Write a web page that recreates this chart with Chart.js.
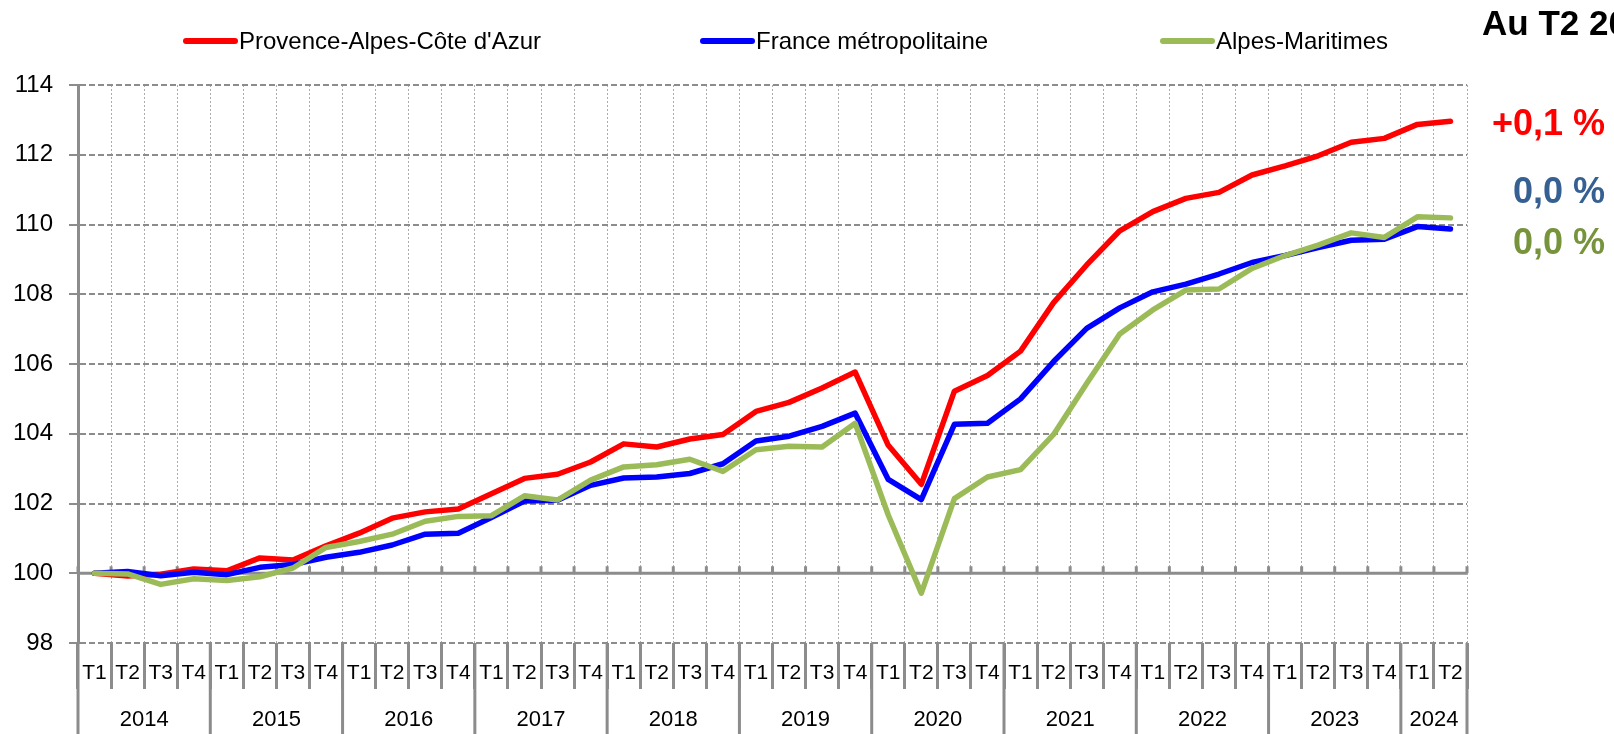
<!DOCTYPE html>
<html lang="fr">
<head>
<meta charset="utf-8">
<title>Indice PACA / France / Alpes-Maritimes</title>
<script src="https://cdn.jsdelivr.net/npm/chart.js@4.4.1/dist/chart.umd.min.js"></script>
<style>
  html, body { margin: 0; padding: 0; background: #fff; }
  #wrap { width: 1614px; height: 734px; position: relative; }
</style>
</head>
<body>
<div id="wrap"><canvas id="chart"></canvas></div>
<script>
// quarters, 2014 T1 -> 2024 T2
const quarterLabels = ['T1','T2','T3','T4','T1','T2','T3','T4','T1','T2','T3','T4',
	'T1','T2','T3','T4','T1','T2','T3','T4','T1','T2','T3','T4','T1','T2','T3','T4',
	'T1','T2','T3','T4','T1','T2','T3','T4','T1','T2','T3','T4','T1','T2'];
const yearLabels = ['2014','2015','2016','2017','2018','2019','2020','2021','2022','2023','2024'];
const quartersInYear = [4,4,4,4,4,4,4,4,4,4,2];

const seriesNames = ["Provence-Alpes-Côte d'Azur", 'France métropolitaine', 'Alpes-Maritimes'];

const pacaValues = [100.00, 99.92, 99.97, 100.12, 100.07, 100.44, 100.38, 100.79,
	101.15, 101.58, 101.76, 101.84, 102.28, 102.72, 102.84, 103.19,
	103.71, 103.62, 103.85, 103.98, 104.64, 104.90, 105.31, 105.77,
	103.67, 102.55, 105.22, 105.67, 106.37, 107.76, 108.84, 109.82,
	110.37, 110.75, 110.92, 111.42, 111.68, 111.97, 112.36, 112.47,
	112.87, 112.96];
const franceValues = [100.00, 100.05, 99.93, 100.03, 99.96, 100.17, 100.25, 100.46,
	100.60, 100.81, 101.12, 101.15, 101.60, 102.07, 102.09, 102.52,
	102.73, 102.76, 102.86, 103.14, 103.79, 103.93, 104.21, 104.59,
	102.69, 102.11, 104.27, 104.30, 105.00, 106.07, 107.02, 107.61,
	108.07, 108.29, 108.58, 108.91, 109.11, 109.34, 109.55, 109.58,
	109.94, 109.87];
const alpesMaritimesValues = [100.00, 99.98, 99.68, 99.84, 99.79, 99.90, 100.15, 100.74,
	100.91, 101.12, 101.49, 101.63, 101.65, 102.22, 102.10, 102.67,
	103.05, 103.11, 103.27, 102.92, 103.54, 103.64, 103.62, 104.30,
	101.67, 99.43, 102.14, 102.76, 102.97, 103.98, 105.44, 106.86,
	107.55, 108.12, 108.15, 108.74, 109.11, 109.41, 109.76, 109.63,
	110.22, 110.19];

const changeLabels = ['+0,1 %', '0,0 %', '0,0 %'];
const titleText = 'Au T2 2024';

const FONT = "'Liberation Sans', Arial, sans-serif";
const lineColors = ['#FF0000', '#0000FF', '#9BBB59'];
const changeColors = ['#FF0000', '#376092', '#77933C'];
const AXIS_GREY = '#8C8C8C';

// extra drawing: the 100 baseline, quarter/year labels below the plot, legend and side notes
const decorPlugin = {
	id: 'decor',
	beforeDatasetsDraw(chart) {
		const {ctx, chartArea: a, scales: {x, y}} = chart;
		const step = x.getPixelForValue(1) - x.getPixelForValue(0);
		const y100 = y.getPixelForValue(100);
		ctx.save();
		ctx.strokeStyle = AXIS_GREY;
		ctx.lineWidth = 3;
		ctx.beginPath();
		ctx.moveTo(a.left, y100);
		ctx.lineTo(a.right, y100);
		ctx.stroke();
		ctx.beginPath();
		for (let i = 0; i <= quarterLabels.length; i++) {
			const px = x.getPixelForValue(0) + (i - 0.5) * step;
			ctx.moveTo(px, y100);
			ctx.lineTo(px, y100 - 7);
		}
		ctx.stroke();
		ctx.restore();
	},
	afterDraw(chart) {
		const {ctx, chartArea: a, scales: {x}} = chart;
		const H = chart.height;
		const step = x.getPixelForValue(1) - x.getPixelForValue(0);
		ctx.save();

		// axis line and year separators down to the bottom
		ctx.strokeStyle = AXIS_GREY;
		ctx.lineWidth = 3;
		ctx.beginPath();
		let start = 0;
		for (let k = 0; k <= yearLabels.length; k++) {
			const px = x.getPixelForValue(0) + (start - 0.5) * step;
			ctx.moveTo(px, a.bottom);
			ctx.lineTo(px, H);
			if (k < yearLabels.length) start += quartersInYear[k];
		}
		ctx.stroke();

		// quarter labels
		ctx.fillStyle = '#000';
		ctx.font = '21px ' + FONT;
		ctx.textAlign = 'center';
		ctx.textBaseline = 'middle';
		quarterLabels.forEach((q, i) => {
			ctx.fillText(q, x.getPixelForValue(i), a.bottom + 30);
		});

		// year labels
		ctx.font = '22px ' + FONT;
		start = 0;
		yearLabels.forEach((yr, k) => {
			const n = quartersInYear[k];
			const cx = (x.getPixelForValue(start) + x.getPixelForValue(start + n - 1)) / 2;
			ctx.fillText(yr, cx, a.bottom + 77);
			start += n;
		});

		// legend
		const legendX = [183, 700, 1160];
		ctx.font = '24px ' + FONT;
		ctx.textAlign = 'left';
		seriesNames.forEach((name, i) => {
			ctx.strokeStyle = lineColors[i];
			ctx.lineWidth = 6;
			ctx.lineCap = 'round';
			ctx.beginPath();
			ctx.moveTo(legendX[i] + 3, 41);
			ctx.lineTo(legendX[i] + 52, 41);
			ctx.stroke();
			ctx.fillStyle = '#000';
			ctx.fillText(name, legendX[i] + 56, 42);
		});

		// title (runs off the right edge like the original)
		ctx.font = 'bold 35px ' + FONT;
		ctx.textBaseline = 'alphabetic';
		ctx.fillText(titleText, 1482, 35);

		// quarterly change notes
		const noteY = [125, 193, 244];
		ctx.font = 'bold 36px ' + FONT;
		ctx.textAlign = 'right';
		ctx.textBaseline = 'middle';
		changeLabels.forEach((t, i) => {
			ctx.fillStyle = changeColors[i];
			ctx.fillText(t, 1605, noteY[i]);
		});
		ctx.restore();
	}
};

const datasets = [pacaValues, franceValues, alpesMaritimesValues].map((vals, i) => ({
	label: seriesNames[i],
	data: vals,
	borderColor: lineColors[i],
	backgroundColor: lineColors[i],
	borderWidth: 5.5,
	pointRadius: 0,
	tension: 0,
	borderJoinStyle: 'round',
	borderCapStyle: 'round',
	order: 2 - i
}));

new Chart(document.getElementById('chart'), {
	type: 'line',
	data: { labels: quarterLabels.map((q, i) => i), datasets: datasets },
	options: {
		responsive: true,
		maintainAspectRatio: false,
		animation: false,
		events: [],
		layout: { padding: { top: 85, right: 147, bottom: 0, left: 0 } },
		plugins: { legend: { display: false }, title: { display: false }, tooltip: { enabled: false } },
		scales: {
			x: {
				type: 'category',
				offset: true,
				afterFit(scale) { scale.height = 91; },
				ticks: { display: false },
				grid: {
					offset: true,
					color: '#ABABAB',
					lineWidth: 1,
					drawTicks: true,
					tickLength: 46,
					tickColor: AXIS_GREY,
					tickWidth: 3,
					tickBorderDash: []
				},
				border: { display: false, dash: [2, 2] }
			},
			y: {
				min: 98,
				max: 114,
				afterFit(scale) { scale.width = 78; },
				ticks: {
					stepSize: 2,
					padding: 16,
					color: '#000',
					font: { family: FONT, size: 24 }
				},
				grid: {
					color: (c) => (c.tick && c.tick.value === 100) ? 'rgba(0,0,0,0)' : AXIS_GREY,
					lineWidth: 2,
					drawTicks: true,
					tickLength: 9,
					tickColor: AXIS_GREY,
					tickWidth: 2,
					tickBorderDash: []
				},
				border: { display: true, color: AXIS_GREY, width: 3, dash: [6, 3] }
			}
		}
	},
	plugins: [decorPlugin]
});
</script>
</body>
</html>
